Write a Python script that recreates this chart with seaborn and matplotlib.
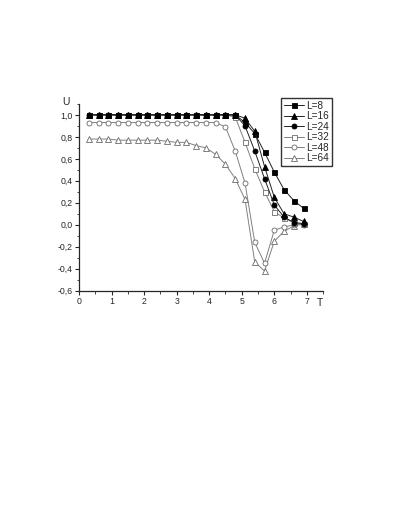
import numpy as np
import pandas as pd
import matplotlib
matplotlib.use('Agg')
import matplotlib.pyplot as plt
from matplotlib.ticker import MultipleLocator, FuncFormatter
import seaborn as sns

# temperaturas T (0.3 ... 6.9)
T = [0.3, 0.6, 0.9, 1.2, 1.5, 1.8, 2.1, 2.4, 2.7, 3.0, 3.3, 3.6,
     3.9, 4.2, 4.5, 4.8, 5.1, 5.4, 5.7, 6.0, 6.3, 6.6, 6.9]

U_L8 = [1.0] * 16 + [0.93, 0.83, 0.66, 0.48, 0.32, 0.22, 0.15]
U_L16 = [1.0] * 16 + [0.97, 0.85, 0.53, 0.25, 0.10, 0.07, 0.03]
U_L24 = [1.0] * 16 + [0.90, 0.67, 0.42, 0.18, 0.07, 0.02, 0.01]
U_L32 = [1.0] * 15 + [0.98, 0.75, 0.51, 0.30, 0.12, 0.06, 0.02, 0.01]
U_L48 = [0.93] * 14 + [0.89, 0.67, 0.38, -0.16, -0.35, -0.05, -0.02, 0.0, 0.0]
U_L64 = [0.78, 0.78, 0.78, 0.77, 0.77, 0.77, 0.77, 0.77, 0.76, 0.75, 0.75, 0.72,
         0.70, 0.64, 0.55, 0.42, 0.23, -0.34, -0.42, -0.15, -0.06, -0.01, 0.01]

labels = ['L=8', 'L=16', 'L=24', 'L=32', 'L=48', 'L=64']
series = [U_L8, U_L16, U_L24, U_L32, U_L48, U_L64]

sns.set_style('ticks')
plt.rcParams['font.family'] = ['Liberation Sans', 'DejaVu Sans']

fig = plt.figure(figsize=(4.1, 5.3), dpi=100)
ax = fig.add_axes([0.193, 0.4515, 0.595, 0.3525])

# estilos (marcador, preenchido?, ordem de desenho)
estilos = [('s', True, 4), ('^', True, 5), ('o', True, 6),
           ('s', False, 3), ('o', False, 2), ('^', False, 1)]

for lab, vals, (mk, cheio, z) in zip(labels, series, estilos):
    df = pd.DataFrame({'T': T, 'U': vals})
    cor_linha = '#222222' if cheio else '#808080'
    sns.lineplot(data=df, x='T', y='U', ax=ax, label=lab,
                 color=cor_linha, linewidth=0.7, zorder=z,
                 marker=mk, markersize=3.6 if mk != '^' else 4.0,
                 markerfacecolor='black' if cheio else 'white',
                 markeredgecolor='black' if cheio else '#6a6a6a',
                 markeredgewidth=0.6)

ax.set_xlim(0, 7.5)
ax.set_ylim(-0.6, 1.1)
ax.xaxis.set_major_locator(MultipleLocator(1))
ax.xaxis.set_minor_locator(MultipleLocator(0.5))
ax.yaxis.set_major_locator(MultipleLocator(0.2))
ax.yaxis.set_minor_locator(MultipleLocator(0.1))

# virgula como separador decimal
ax.yaxis.set_major_formatter(FuncFormatter(lambda v, p: f'{v:.1f}'.replace('.', ',').replace('-0,0', '0,0')))
ax.xaxis.set_major_formatter(FuncFormatter(lambda v, p: f'{v:.0f}'))

ax.tick_params(which='major', direction='out', length=3, width=0.8, labelsize=6.3, pad=1.5)
ax.tick_params(which='minor', direction='out', length=1.8, width=0.6)

sns.despine(ax=ax)
for s in ['left', 'bottom']:
    ax.spines[s].set_linewidth(0.9)

ax.set_xlabel('')
ax.set_ylabel('')
ax.text(-0.053, 1.009, 'U', transform=ax.transAxes, fontsize=7.5, ha='center', va='center')
ax.text(0.988, -0.064, 'T', transform=ax.transAxes, fontsize=7.5, ha='center', va='center')

leg = ax.legend(loc='upper left', bbox_to_anchor=(0.828, 1.029), borderaxespad=0,
                fontsize=7.2, frameon=True, fancybox=False, framealpha=1,
                edgecolor='#333333', handlelength=2.0, handletextpad=0.3,
                labelspacing=0.05, borderpad=0.25)
leg.get_frame().set_linewidth(1.0)

plt.savefig('out.png', dpi=100)
